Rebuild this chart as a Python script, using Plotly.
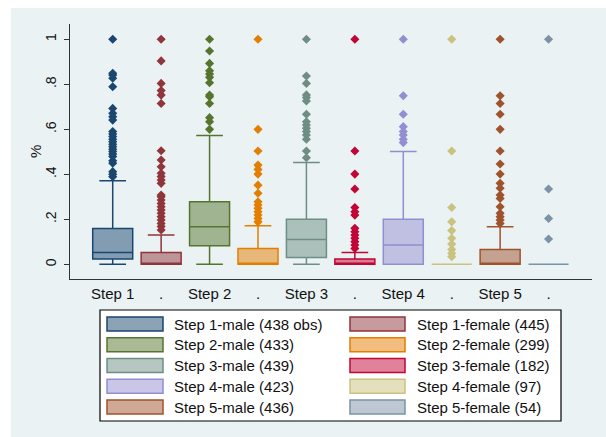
import plotly.graph_objects as go

# Category positions along the x axis (male / female alternating per step)
positions = [1, 2, 3, 4, 5, 6, 7, 8, 9, 10]
tick_labels = ["Step 1", ".", "Step 2", ".", "Step 3", ".", "Step 4", ".", "Step 5", "."]

legend_labels = [
    "Step 1-male (438 obs)", "Step 1-female (445)",
    "Step 2-male (433)", "Step 2-female (299)",
    "Step 3-male (439)", "Step 3-female (182)",
    "Step 4-male (423)", "Step 4-female (97)",
    "Step 5-male (436)", "Step 5-female (54)",
]

colors = ["#1a476f", "#90353b", "#55752f", "#e37e00", "#6e8e84",
          "#c10534", "#938dd2", "#cac27e", "#a0522d", "#7b92a8"]

# Box summary statistics
q1 = [0.024, 0.0, 0.083, 0.0, 0.031, 0.0, 0.0, 0.0, 0.0, 0.0]
median = [0.053, 0.0, 0.167, 0.0, 0.111, 0.0, 0.086, 0.0, 0.0, 0.0]
q3 = [0.159, 0.053, 0.278, 0.071, 0.201, 0.024, 0.201, 0.0, 0.066, 0.0]
lower = [0.0, 0.0, 0.0, 0.0, 0.0, 0.0, 0.0, 0.0, 0.0, 0.0]
upper = [0.372, 0.130, 0.573, 0.172, 0.453, 0.053, 0.501, 0.0, 0.167, 0.0]

# Outside values
out_s1_male = [0.389, 0.40, 0.412, 0.449, 0.46, 0.479, 0.49, 0.501, 0.512, 0.523,
               0.534, 0.545, 0.556, 0.568, 0.579, 0.590, 0.641, 0.656, 0.671,
               0.693, 0.789, 0.827, 0.841, 0.849, 1.0]
out_s1_female = [0.153, 0.168, 0.182, 0.197, 0.212, 0.227, 0.242, 0.256, 0.271,
                 0.286, 0.301, 0.308, 0.360, 0.375, 0.390, 0.405, 0.434, 0.464,
                 0.505, 0.715, 0.752, 0.772, 0.804, 0.904, 1.0]
out_s2_male = [0.600, 0.634, 0.652, 0.715, 0.745, 0.752, 0.807, 0.831, 0.846,
               0.860, 0.893, 0.948, 1.0]
out_s2_female = [0.189, 0.204, 0.219, 0.234, 0.249, 0.264, 0.278, 0.316, 0.352,
                 0.401, 0.422, 0.441, 0.504, 0.600, 1.0]
out_s3_male = [0.474, 0.504, 0.556, 0.575, 0.590, 0.605, 0.619, 0.634, 0.667,
               0.726, 0.741, 0.753, 0.804, 0.837, 1.0]
out_s3_female = [0.071, 0.086, 0.101, 0.116, 0.130, 0.145, 0.160, 0.219, 0.234,
                 0.253, 0.335, 0.401, 0.504, 1.0]
out_s4_male = [0.541, 0.556, 0.575, 0.590, 0.612, 0.667, 0.749, 1.0]
out_s4_female = [0.034, 0.049, 0.066, 0.090, 0.116, 0.150, 0.189, 0.253, 0.504, 1.0]
out_s5_male = [0.182, 0.197, 0.212, 0.227, 0.256, 0.293, 0.308, 0.338, 0.360,
               0.401, 0.446, 0.504, 0.600, 0.667, 0.715, 0.749, 1.0]
out_s5_female = [0.113, 0.204, 0.335, 1.0]

outliers = [out_s1_male, out_s1_female, out_s2_male, out_s2_female, out_s3_male,
            out_s3_female, out_s4_male, out_s4_female, out_s5_male, out_s5_female]

FONT = "Arial, Liberation Sans, sans-serif"
BG = "#eaf2f3"
AXIS = "#333333"

# Figure geometry (pixels)
W, H = 606, 437
L, R, T, B = 70, 14, 24, 158
PW, PH = W - L - R, H - T - B


def px(x):
    return (x - L) / PW


def py(y):
    return (H - B - y) / PH


def fade(hex_color, a=0.5):
    h = hex_color.lstrip("#")
    r, g, b = (int(h[i:i + 2], 16) for i in (0, 2, 4))
    return f"rgba({r},{g},{b},{a})"


fig = go.Figure()

for i, pos in enumerate(positions):
    fig.add_trace(go.Box(
        x=[pos], q1=[q1[i]], median=[median[i]], q3=[q3[i]],
        lowerfence=[lower[i]], upperfence=[upper[i]],
        width=0.826, whiskerwidth=0.667, boxpoints=False,
        fillcolor=fade(colors[i]), line=dict(color=colors[i], width=1.5),
        name=legend_labels[i], showlegend=False, hoverinfo="skip",
    ))
    fig.add_trace(go.Scatter(
        x=[pos] * len(outliers[i]), y=outliers[i], mode="markers",
        marker=dict(symbol="diamond", size=7, color=colors[i], line=dict(width=0)),
        showlegend=False, hoverinfo="skip",
    ))

shapes = [
    # outer graph region
    dict(type="rect", xref="paper", yref="paper", layer="below",
         x0=px(11), x1=px(W + 5), y0=py(8), y1=py(H + 5),
         fillcolor=BG, line=dict(width=0)),
    # legend frame
    dict(type="rect", xref="paper", yref="paper",
         x0=px(100), x1=px(561), y0=py(310), y1=py(421),
         fillcolor="white", line=dict(color="#000000", width=1.2)),
]

# y-axis title
annotations = [dict(xref="paper", yref="paper", x=px(35), y=py(152),
                    xanchor="center", yanchor="middle", showarrow=False,
                    text="%", textangle=-90,
                    font=dict(family=FONT, size=15, color="#111"))]

row_h = 20.75
for i, label in enumerate(legend_labels):
    row, col = divmod(i, 2)
    yc = 324 + row * row_h
    sx0, sx1, tx = (107, 163, 172) if col == 0 else (350, 405, 415)
    shapes.append(dict(type="rect", xref="paper", yref="paper",
                       x0=px(sx0), x1=px(sx1), y0=py(yc - 7), y1=py(yc + 7),
                       fillcolor=fade(colors[i]),
                       line=dict(color=colors[i], width=1.5)))
    annotations.append(dict(xref="paper", yref="paper", x=px(tx), y=py(yc),
                            xanchor="left", yanchor="middle", showarrow=False,
                            text=label, font=dict(family=FONT, size=15, color="#111")))

fig.update_layout(
    width=W, height=H,
    margin=dict(l=L, r=R, t=T, b=B),
    paper_bgcolor="white", plot_bgcolor="white",
    font=dict(family=FONT, size=15, color="#111"),
    shapes=shapes, annotations=annotations,
    showlegend=False,
    xaxis=dict(
        range=[0.118, 10.897], tickvals=positions, ticktext=tick_labels,
        ticks="", showline=True, linecolor=AXIS, linewidth=1.3,
        showgrid=False, zeroline=False, tickfont=dict(size=15),
        ticklabelstandoff=1,
    ),
    yaxis=dict(
        range=[-0.065, 1.068], tickvals=[0, 0.2, 0.4, 0.6, 0.8, 1],
        ticktext=["0", ".2", ".4", ".6", ".8", "1"], tickangle=-90,
        ticks="outside", ticklen=5, tickcolor=AXIS, tickwidth=1.2,
        showline=True, linecolor=AXIS, linewidth=1.3,
        showgrid=True, gridcolor=BG, gridwidth=1.5, zeroline=False,
        tickfont=dict(size=14), ticklabelstandoff=2,
    ),
)

fig.write_html("out.html")
